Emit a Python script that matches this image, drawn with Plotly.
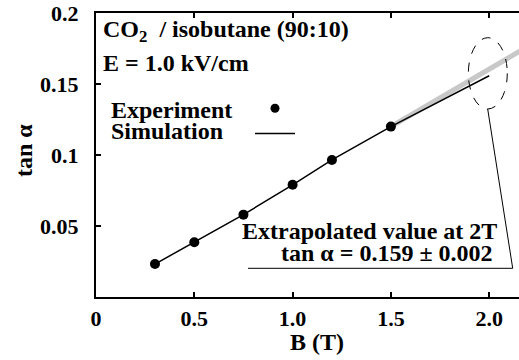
import plotly.graph_objects as go

# ---- data ----
B_exp = [0.3, 0.5, 0.75, 1.0, 1.2, 1.5]
tan_exp = [0.0232, 0.0385, 0.0580, 0.0790, 0.0965, 0.1200]

B_sim = [0.3, 0.5, 0.75, 1.0, 1.2, 1.5, 2.0]
tan_sim = [0.0232, 0.0385, 0.0580, 0.0790, 0.0965, 0.1200, 0.1558]

B_extrap = [1.5, 2.25]
tan_extrap = [0.1200, 0.1807]

x_ticks = [0, 0.5, 1.0, 1.5, 2.0]
x_ticktext = ["<b>0</b>", "<b>0.5</b>", "<b>1.0</b>", "<b>1.5</b>", "<b>2.0</b>"]
y_ticks = [0.05, 0.10, 0.15, 0.20]
y_ticktext = ["<b>0.05</b>", "<b>0.1</b>", "<b>0.15</b>", "<b>0.2</b>"]

W, H = 519, 360
L, R, T, Bm = 96, 0, 13, 63
PW, PH = W - L - R, H - T - Bm

def px(x):
    return (x - L) / PW

def py(y):
    return (H - Bm - y) / PH

FONT = "Liberation Serif"
def f(size):
    return dict(family=FONT, size=size, color="black")

fig = go.Figure()
fig.add_trace(go.Scatter(x=B_extrap, y=tan_extrap, mode="lines",
                         line=dict(color="#c8c8c8", width=5), hoverinfo="skip"))
fig.add_trace(go.Scatter(x=B_sim, y=tan_sim, mode="lines",
                         line=dict(color="black", width=1.5)))
fig.add_trace(go.Scatter(x=B_exp, y=tan_exp, mode="markers",
                         marker=dict(color="black", size=10)))

xmax = PW / 196.6
fig.update_layout(
    width=W, height=H, margin=dict(l=L, r=R, t=T, b=Bm, pad=0),
    paper_bgcolor="white", plot_bgcolor="white", showlegend=False,
    xaxis=dict(range=[0, xmax], tickvals=x_ticks, ticktext=x_ticktext,
               ticks="inside", ticklen=5, tickwidth=1.5, tickcolor="black",
               showline=True, linecolor="black", linewidth=2, mirror="ticks",
               showgrid=False, zeroline=False, tickfont=f(22), ticklabelstandoff=1),
    yaxis=dict(range=[0, 0.2], tickvals=y_ticks, ticktext=y_ticktext,
               ticks="inside", ticklen=5, tickwidth=1.5, tickcolor="black",
               showline=True, linecolor="black", linewidth=2, mirror=False,
               showgrid=False, zeroline=False, tickfont=f(22), ticklabelstandoff=11),
)

ann = [
    dict(text="CO<sub>2</sub>  / isobutane (90:10)", x=px(101), y=py(31), xanchor="left"),
    dict(text="E = 1.0 kV/cm", x=px(101), y=py(63), xanchor="left"),
    dict(text="Experiment", x=px(109), y=py(110), xanchor="left"),
    dict(text="Simulation", x=px(109), y=py(131), xanchor="left"),
    dict(text="Extrapolated value at 2T", x=px(499), y=py(231), xanchor="right"),
    dict(text="tan α = 0.159 ± 0.002", x=px(495), y=py(253), xanchor="right"),
    dict(text="B (T)", x=px(317), y=py(342), xanchor="center"),
]
for a in ann:
    a["text"] = "<b>" + a["text"] + "</b>"
    fig.add_annotation(xref="paper", yref="paper", yanchor="middle",
                       showarrow=False, font=f(24), **a)
fig.add_annotation(xref="paper", yref="paper", text="<b>tan α</b>", x=px(24), y=py(151),
                   xanchor="center", yanchor="middle", textangle=-90,
                   showarrow=False, font=f(24))

# legend keys
fig.add_shape(type="circle", xref="paper", yref="paper",
              x0=px(270.5), x1=px(279.5), y0=py(112.8), y1=py(103.8),
              fillcolor="black", line=dict(color="black", width=0))
fig.add_shape(type="line", xref="paper", yref="paper",
              x0=px(255), x1=px(295), y0=py(133.5), y1=py(133.5),
              line=dict(color="black", width=1.5))

# dashed ellipse and callout
fig.add_shape(type="circle", xref="x", yref="y",
              x0=1.894, x1=2.092, y0=0.1324, y1=0.1826,
              line=dict(color="black", width=1, dash="dash"))
fig.add_shape(type="path", xref="paper", yref="paper",
              path=f"M {px(487.7)} {py(109)} L {px(512.7)} {py(268.3)} L {px(248)} {py(268.3)}",
              line=dict(color="black", width=1))

fig.write_html("out.html", config={"displayModeBar": False},
               post_script="document.body.style.margin='0';document.body.style.overflow='hidden';")
